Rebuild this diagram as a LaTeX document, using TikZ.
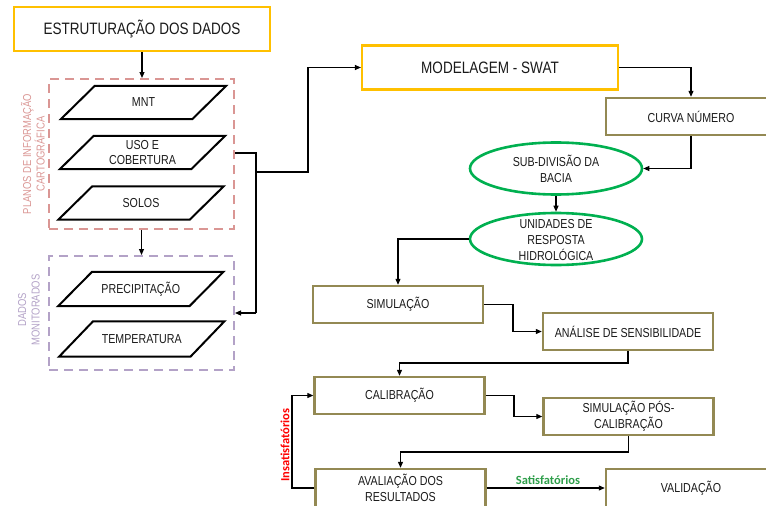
\documentclass[tikz,border=0pt]{standalone}
\usepackage{fontspec}
\setmainfont{Liberation Sans}[FakeStretch=0.82]
\newfontfamily\lblfont{Carlito}
\usetikzlibrary{arrows.meta,shapes.geometric,calc}
\definecolor{ylw}{HTML}{FFC000}
\definecolor{olv}{HTML}{938953}
\definecolor{grn}{HTML}{00B050}
\definecolor{pinkd}{HTML}{DA9694}
\definecolor{purd}{HTML}{B3A2C7}
\definecolor{satg}{HTML}{2E9E4A}
\definecolor{txt}{HTML}{1A1A1A}
\tikzset{
  ybox/.style={draw=ylw,line width=2.2pt,fill=white,minimum width=256,minimum height=44,inner sep=0pt,font=\fontsize{16.5}{19}\selectfont,text=txt},
  obox/.style={draw=olv,line width=2.4pt,fill=white,minimum width=170,minimum height=37,inner sep=0pt,align=center,font=\fontsize{13}{16}\selectfont,text=txt},
  ell/.style={ellipse,draw=grn,line width=2.6pt,minimum width=172,minimum height=52,inner sep=0pt},
  etxt/.style={align=center,font=\fontsize{13}{16}\selectfont,text=txt},
  para/.style={rectangle,minimum width=131,minimum height=33,inner sep=0pt,align=center,font=\fontsize{13}{15}\selectfont,text=txt},
  paraline/.style={draw=black,line width=2pt,line join=miter},
  dbox/.style={dash pattern=on 9pt off 6pt,line width=2pt,inner sep=0pt},
  arr/.style={line width=1.1pt,-{Triangle[length=6pt,width=5pt]}},
  ln/.style={line width=1.1pt},
  vlab/.style={rotate=90,align=center,font=\fontsize{11.5}{13.5}\selectfont},
}
\newcommand\myparall[1]{\draw[paraline] ([xshift=17]#1.north west) -- ([xshift=17]#1.north east) -- ([xshift=-17]#1.south east) -- ([xshift=-17]#1.south west) -- cycle;}
\begin{document}
\begin{tikzpicture}[x=1pt,y=-1pt]
\useasboundingbox (0,0) rectangle (766,506);
% left column
\node[ybox] (title) at (142,29) {ESTRUTURAÇÃO DOS DADOS};
\node[dbox,draw=pinkd,minimum width=185,minimum height=150] (plan) at (141.5,154) {};
\node[para] (mnt) at (143.5,102.5) {MNT};
\node[para] (uso) at (142.5,152.5) {USO E\\COBERTURA};
\node[para] (solos) at (141,203) {SOLOS};
\myparall{mnt}
\myparall{uso}
\myparall{solos}
\node[vlab,text=pinkd] (planlab) at (33,154) {PLANOS DE INFORMAÇÃO\\CARTOGRÁFICA};
\node[dbox,draw=purd,minimum width=185,minimum height=114] (mon) at (141.5,313) {};
\node[para,minimum height=34] (prec) at (140.75,289) {PRECIPITAÇÃO};
\node[para,minimum height=35] (temp) at (141.75,339) {TEMPERATURA};
\myparall{prec}
\myparall{temp}
\node[vlab,text=purd] (monlab) at (29,310) {DADOS\\MONITORADOS};
% right column
\node[ybox] (swat) at (490,67.5) {MODELAGEM - SWAT};
\node[obox] (curva) at (691,116.5) {CURVA NÚMERO};
\node[ell] (e1) at (556,168.5) {};
\node[etxt] (e1t) at (556,169) {SUB-DIVISÃO DA\\BACIA};
\node[ell] (e2) at (556,239) {};
\node[etxt] (e2t) at (556,240) {UNIDADES DE\\RESPOSTA\\HIDROLÓGICA};
\node[obox] (sim) at (398,304.5) {SIMULAÇÃO};
\node[obox] (ana) at (628,331.5) {ANÁLISE DE SENSIBILIDADE};
\node[obox] (cal) at (399.5,395.5) {CALIBRAÇÃO};
\node[obox] (pos) at (628.5,416.5) {SIMULAÇÃO PÓS-\\CALIBRAÇÃO};
\node[obox,minimum height=38] (ava) at (400.5,488) {AVALIAÇÃO DOS\\RESULTADOS};
\node[obox,minimum height=38] (val) at (691,488) {VALIDAÇÃO};
% connectors
\draw[arr] (title.south) -- (title.south |- plan.north);
\draw[arr] (plan.south) -- (plan.south |- mon.north);
\coordinate (jt) at (256,153);
\coordinate (jb) at (256,313);
\coordinate (jm) at (256,172);
\coordinate (ju) at (308,172);
\draw[ln] (plan.east |- jt) -- (jt) -- (jb);
\draw[arr] (jb) -- (mon.east |- jb);
\draw[arr] (jm) -- (ju) |- (swat.west);
\draw[arr] (swat.east) -| (curva.north);
\draw[arr] (curva.south) |- (e1.east);
\draw[arr] (e1.south) -- (e2.north);
\draw[arr] (e2.west) -| (sim.north);
\coordinate (c1) at (513,304.5);
\draw[arr] (sim.east) -- (c1) |- (ana.west);
\coordinate (c2) at (628,363);
\draw[arr] (ana.south) -- (c2) -| (cal.north);
\coordinate (c3) at (514,395.5);
\draw[arr] (cal.east) -- (c3) |- (pos.west);
\coordinate (c4) at (628.5,452);
\draw[arr] (pos.south) -- (c4) -| (ava.north);
\coordinate (c5) at (292,488);
\draw[arr] (ava.west) -- (c5) |- (cal.west);
\draw[arr] (ava.east) -- (val.west);
\node[rotate=90,text=red,font=\lblfont\bfseries\fontsize{12.5}{14}\selectfont] (ins) at (285,445) {Insatisfatórios};
\node[text=satg,font=\lblfont\bfseries\fontsize{12.5}{14}\selectfont] (sat) at (548,480) {Satisfatórios};
\end{tikzpicture}
\end{document}
